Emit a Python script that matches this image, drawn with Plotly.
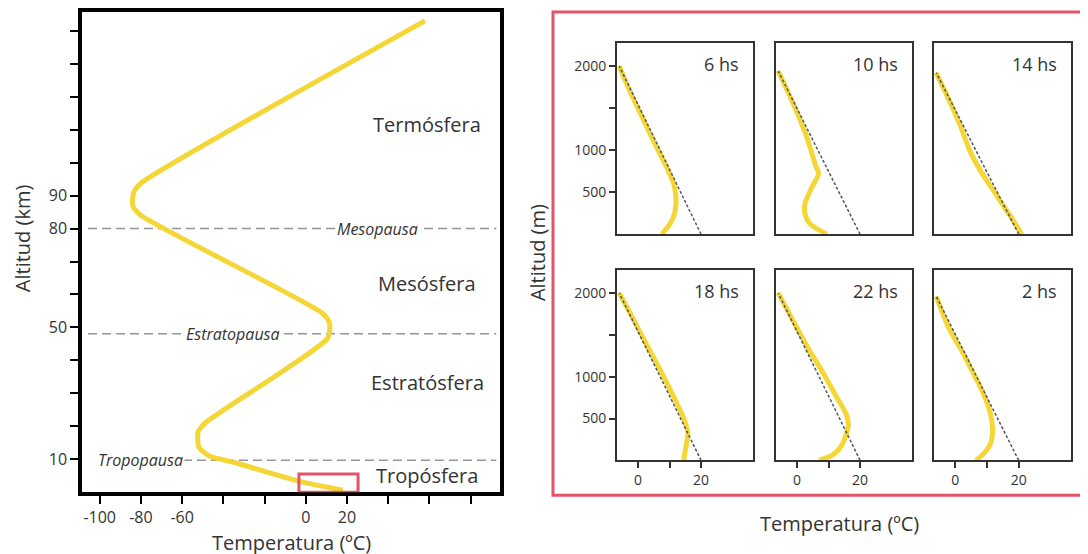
import plotly.graph_objects as go

W, H = 1088, 554
OFF = 8  # default page body margin
FONT = "Open Sans"
TXT = "#333333"
YELLOW = "rgb(244,215,55)"
RED = "#E2546A"

# ---------------- Left panel: schematic atmosphere profile ----------------
atm_temp = [57.9, -80.5, -83.5, -84.0, -80.0, 7.9, 11.5, 10.8, -49.0, -52.3, -51.8, -46.5, -35.0, -3.0, 18.0]
atm_alt = [14.3, 9.35, 9.1, 8.7, 8.4, 5.44, 5.14, 4.69, 2.09, 1.81, 1.36, 1.09, 0.91, 0.33, 0.06]

alt_tick_pos = list(range(1, 15))
alt_tick_text = ["10", "", "", "", "50", "", "", "80", "90", "", "", "", "", ""]
temp_tick_vals = [-100, -80, -60, -40, -20, 0, 20, 40, 60, 80]
temp_tick_text = ["-100", "-80", "-60", "", "", "0", "20", "", "", ""]

pause_names = ["Mesopausa", "Estratopausa", "Tropopausa"]
pause_alt = [8.0, 4.81, 0.97]
pause_label_temp = [34.6, -35.3, -80.4]
pause_line_start = [-105.7, -105.7, -80.0]

layer_names = ["Termósfera", "Mesósfera", "Estratósfera", "Tropósfera"]
layer_label_alt = [11.15, 6.32, 3.33, 0.51]
layer_label_temp = 58.9

zoom_box_temp = [-3.3, 25.4]
zoom_box_alt = [0.0, 0.55]

# ---------------- Right panels: daily boundary-layer profiles ----------------
hours = ["6 hs", "10 hs", "14 hs", "18 hs", "22 hs", "2 hs"]
prof_temp = [
    [-6.0, -2.6, 1.2, 5.0, 7.7, 9.8, 11.3, 12.0, 12.0, 11.2, 9.5, 7.5],
    [-6.0, -1.2, 3.1, 5.7, 6.8, 4.7, 2.5, 2.5, 4.1, 9.4],
    [-6.0, -2.0, 1.5, 4.5, 8.0, 11.5, 15.0, 18.5, 21.0],
    [-6.0, -2.4, 1.8, 5.6, 8.8, 11.8, 14.3, 15.8, 15.3, 14.7, 14.6],
    [-6.0, -1.0, 4.0, 8.5, 12.5, 15.5, 16.3, 15.5, 14.2, 11.5, 7.0],
    [-6.0, -2.0, 2.5, 6.0, 8.5, 10.5, 11.5, 11.8, 11.0, 9.0, 6.5],
]
prof_alt = [
    [2000, 1700, 1400, 1100, 900, 740, 600, 450, 340, 200, 90, 0],
    [1940, 1551, 1155, 837, 718, 560, 361, 242, 123, 0],
    [1920, 1600, 1300, 1000, 750, 550, 350, 150, 0],
    [2000, 1750, 1450, 1180, 950, 720, 520, 330, 180, 60, 0],
    [2000, 1650, 1310, 1030, 760, 560, 430, 300, 180, 70, 0],
    [1960, 1580, 1280, 1020, 830, 640, 470, 330, 190, 80, 0],
]
adiabat_temp = [20, -6]
adiabat_top = [2000, 1940, 1920, 2000, 2000, 1960]

small_y_ticks = [500, 1000, 1500, 2000]
small_y_text = ["500", "1000", "", "2000"]
small_x_ticks = [0, 10, 20]
small_x_text = ["0", "", "20"]


def fx(px):
    return (px - OFF) / W


def fy(py):
    return 1 - (py - OFF) / H


fig = go.Figure()

fig.add_trace(go.Scatter(x=atm_temp, y=atm_alt, mode="lines",
                         line=dict(color=YELLOW, width=5, shape="spline", smoothing=0.6),
                         xaxis="x", yaxis="y", showlegend=False, hoverinfo="skip"))

layout = dict(
    width=W, height=H, margin=dict(l=0, r=0, t=0, b=0),
    paper_bgcolor="white", plot_bgcolor="white",
    font=dict(family=FONT, color=TXT),
    showlegend=False,
)

layout["xaxis"] = dict(domain=[fx(82), fx(500)], range=[-108.6, 94.3], anchor="y",
                       tickmode="array", tickvals=temp_tick_vals, ticktext=temp_tick_text,
                       ticks="outside", ticklen=8, tickwidth=2, tickcolor="black",
                       showline=True, mirror=True, linecolor="black", linewidth=3.5,
                       showgrid=False, zeroline=False, tickfont=dict(size=16, color=TXT))
layout["yaxis"] = dict(domain=[fy(492), fy(10)], range=[0, 14.57], anchor="x",
                       tickmode="array", tickvals=alt_tick_pos, ticktext=alt_tick_text,
                       ticks="outside", ticklen=8, tickwidth=2, tickcolor="black",
                       showline=True, mirror=True, linecolor="black", linewidth=3.5,
                       showgrid=False, zeroline=False, tickfont=dict(size=16, color=TXT))

shapes = []
annotations = []

for name, alt, lx, x0 in zip(pause_names, pause_alt, pause_label_temp, pause_line_start):
    shapes.append(dict(type="line", xref="x", yref="y", x0=x0, x1=92.5, y0=alt, y1=alt,
                       line=dict(color="#959595", width=1.5, dash="9px,5px"), layer="below"))
    annotations.append(dict(xref="x", yref="y", x=lx, y=alt, text="<i>%s</i>" % name,
                            xanchor="center", yanchor="middle",
                            showarrow=False, bgcolor="white", borderpad=1,
                            font=dict(size=16, color=TXT, family=FONT)))

for name, alt in zip(layer_names, layer_label_alt):
    annotations.append(dict(xref="x", yref="y", x=layer_label_temp, y=alt, text=name,
                            xanchor="center", yanchor="middle",
                            showarrow=False, font=dict(size=20, color=TXT, family=FONT)))

shapes.append(dict(type="rect", xref="x", yref="y", x0=zoom_box_temp[0], x1=zoom_box_temp[1],
                   y0=zoom_box_alt[0], y1=zoom_box_alt[1], line=dict(color=RED, width=3)))

annotations.append(dict(xref="paper", yref="paper", x=fx(22), y=fy(237), text="Altitud (km)",
                        xanchor="center", yanchor="middle",
                        textangle=-90, showarrow=False, font=dict(size=20, color=TXT)))
annotations.append(dict(xref="paper", yref="paper", x=fx(291), y=fy(542), text="Temperatura (ºC)",
                        xanchor="center", yanchor="middle",
                        showarrow=False, font=dict(size=20, color=TXT)))

col_px = [(617, 753), (776, 912), (934, 1071)]
row_px = [(41, 233), (269, 460)]

for i in range(6):
    r, c = divmod(i, 3)
    n = i + 2
    xa, ya = "x%d" % n, "y%d" % n
    fig.add_trace(go.Scatter(x=prof_temp[i], y=prof_alt[i], mode="lines",
                             line=dict(color=YELLOW, width=5, shape="spline", smoothing=0.7),
                             xaxis=xa, yaxis=ya, showlegend=False, hoverinfo="skip"))
    fig.add_trace(go.Scatter(x=adiabat_temp, y=[0, adiabat_top[i]], mode="lines",
                             line=dict(color="#505560", width=1.5, dash="3px,2px"),
                             xaxis=xa, yaxis=ya, showlegend=False, hoverinfo="skip"))
    x0p, x1p = col_px[c]
    y0p, y1p = row_px[r]
    xd = dict(domain=[fx(x0p), fx(x1p)], range=[-6.7, 36.5], anchor=ya,
              showline=True, mirror=True, linecolor="#333333", linewidth=2,
              showgrid=False, zeroline=False)
    if r == 1:
        xd.update(tickmode="array", tickvals=small_x_ticks, ticktext=small_x_text,
                  ticks="outside", ticklen=6, tickwidth=2, tickcolor="#333333",
                  tickfont=dict(size=14, color=TXT))
    else:
        xd.update(showticklabels=False, ticks="")
    yd = dict(domain=[fy(y1p), fy(y0p)], range=[0, 2275], anchor=xa,
              showline=True, mirror=True, linecolor="#333333", linewidth=2,
              showgrid=False, zeroline=False)
    if c == 0:
        yd.update(tickmode="array", tickvals=small_y_ticks, ticktext=small_y_text,
                  ticks="outside", ticklen=6, tickwidth=2, tickcolor="#333333",
                  tickfont=dict(size=14, color=TXT))
    else:
        yd.update(showticklabels=False, ticks="")
    layout["xaxis%d" % n] = xd
    layout["yaxis%d" % n] = yd
    annotations.append(dict(xref="%s domain" % xa, yref="%s domain" % ya, x=1, y=1,
                            xanchor="right", yanchor="top", xshift=-12, yshift=-7,
                            text=hours[i], showarrow=False, font=dict(size=18, color=TXT)))

shapes.append(dict(type="rect", xref="paper", yref="paper", x0=fx(553), x1=fx(1100),
                   y0=fy(495), y1=fy(10), line=dict(color=RED, width=3)))

annotations.append(dict(xref="paper", yref="paper", x=fx(537), y=fy(252), text="Altitud (m)",
                        xanchor="center", yanchor="middle",
                        textangle=-90, showarrow=False, font=dict(size=20, color=TXT)))
annotations.append(dict(xref="paper", yref="paper", x=fx(839), y=fy(523), text="Temperatura (ºC)",
                        xanchor="center", yanchor="middle",
                        showarrow=False, font=dict(size=20, color=TXT)))

layout["shapes"] = shapes
layout["annotations"] = annotations
fig.update_layout(**layout)

fig.write_html("out.html")
